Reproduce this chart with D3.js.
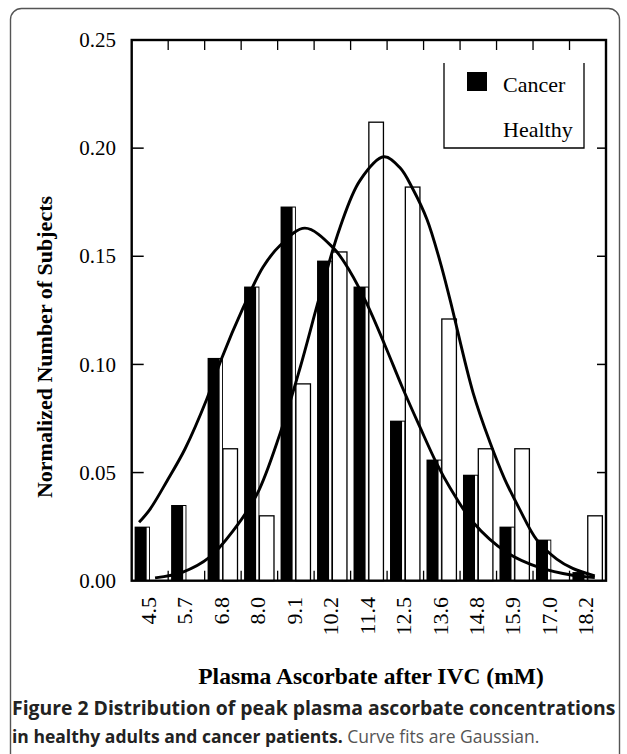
<!DOCTYPE html>
<html>
<head>
<meta charset="utf-8">
<script src="https://cdn.jsdelivr.net/npm/d3@7"></script>
<style>
  body { margin: 0; background: #fff; }
  svg { display: block; }
  .serif { font-family: "Liberation Serif", "Times New Roman", serif; }
</style>
</head>
<body>
<svg id="chart" width="627" height="754"></svg>
<script>
// categories (mM, bin labels)
const categories = ["4.5", "5.7", "6.8", "8.0", "9.1", "10.2", "11.4", "12.5", "13.6", "14.8", "15.9", "17.0", "18.2"];
// normalized number of subjects per bin
const cancerValues  = [0.025, 0.035, 0.103, 0.136, 0.173, 0.148, 0.136, 0.074, 0.056, 0.049, 0.025, 0.019, 0.004];
const healthyValues = [0, 0, 0.061, 0.030, 0.091, 0.152, 0.212, 0.182, 0.121, 0.061, 0.061, 0, 0.030];
const yTicks = [0, 0.05, 0.10, 0.15, 0.20, 0.25];

// gaussian fit curves [mM, value]
const cancerCurve = [
  [4.16, 0.027], [4.50, 0.033], [5.03, 0.046], [5.60, 0.061], [6.28, 0.084], [6.75, 0.103],
  [7.41, 0.126], [8.04, 0.145], [8.57, 0.155], [9.35, 0.163], [10.23, 0.154], [10.76, 0.143],
  [11.29, 0.128], [11.85, 0.109], [12.41, 0.089], [12.95, 0.071], [13.48, 0.054], [13.89, 0.043],
  [14.61, 0.027], [15.67, 0.013], [16.70, 0.006], [17.73, 0.0025], [18.42, 0.0015]
];
const healthyCurve = [
  [4.66, 0.0013], [5.53, 0.004], [6.38, 0.011], [7.10, 0.023], [7.85, 0.040], [8.57, 0.068],
  [9.19, 0.098], [9.82, 0.132], [10.44, 0.163], [11.07, 0.185], [11.82, 0.196], [12.32, 0.191],
  [12.73, 0.181], [13.17, 0.167], [13.57, 0.148], [13.89, 0.130], [14.61, 0.087], [15.14, 0.064],
  [15.60, 0.047], [16.07, 0.033], [16.60, 0.019], [17.23, 0.010], [17.73, 0.0057], [18.42, 0.0022]
];

const svg = d3.select("#chart");

// outer figure box
svg.append("rect")
  .attr("x", 10.5).attr("y", 8.5)
  .attr("width", 609).attr("height", 780)
  .attr("rx", 11)
  .attr("fill", "none").attr("stroke", "#555").attr("stroke-width", 1.4);

const plot = { left: 131.7, right: 606, top: 40, bottom: 580.7 };

const x = d3.scaleBand().domain(categories).range([plot.left, plot.right]).padding(0);
const bw = x.bandwidth();
const y = d3.scaleLinear().domain([0, 0.25]).range([plot.bottom, plot.top]);
// continuous mM scale, bin centers line up with labels
const xm = d3.scaleLinear()
  .domain([4.5, 18.2])
  .range([x(categories[0]) + bw / 2, x(categories[categories.length - 1]) + bw / 2]);

const rows = categories.map((c, i) => ({ cat: c, cancer: cancerValues[i], healthy: healthyValues[i] }));

const g = svg.append("g");

// cancer bars: black with thin white strip on right side (as in original)
g.selectAll(".cancer")
  .data(rows)
  .enter().append("rect")
  .attr("x", (d) => x(d.cat) + bw * 0.08)
  .attr("y", (d) => y(d.cancer))
  .attr("width", bw * 0.42)
  .attr("height", (d) => y(0) - y(d.cancer))
  .attr("fill", "#000");

g.selectAll(".strip")
  .data(rows)
  .enter().append("rect")
  .attr("x", (d) => x(d.cat) + bw * 0.41)
  .attr("y", (d) => y(d.cancer) + 1)
  .attr("width", bw * 0.065)
  .attr("height", (d) => Math.max(0, y(0) - y(d.cancer) - 1))
  .attr("fill", "#fff");

// healthy bars: white, outlined
g.selectAll(".healthy")
  .data(rows.filter((d) => d.healthy > 0))
  .enter().append("rect")
  .attr("x", (d) => x(d.cat) + bw * 0.5)
  .attr("y", (d) => y(d.healthy))
  .attr("width", bw * 0.4)
  .attr("height", (d) => y(0) - y(d.healthy))
  .attr("fill", "#fff")
  .attr("stroke", "#000")
  .attr("stroke-width", 1.3);

// fit curves
const line = d3.line()
  .x((d) => xm(d[0]))
  .y((d) => y(d[1]))
  .curve(d3.curveCatmullRom);

[cancerCurve, healthyCurve].forEach((pts) => {
  g.append("path")
    .attr("d", line(pts))
    .attr("fill", "none")
    .attr("stroke", "#000")
    .attr("stroke-width", 2.9);
});

// inward ticks on all four sides
const boundaries = categories.slice(1).map((c) => x(c));
g.selectAll(".tickb")
  .data(boundaries)
  .enter().append("line")
  .attr("x1", (d) => d).attr("x2", (d) => d)
  .attr("y1", plot.bottom).attr("y2", plot.bottom - 10)
  .attr("stroke", "#000").attr("stroke-width", 1.3);
g.selectAll(".tickt")
  .data(boundaries)
  .enter().append("line")
  .attr("x1", (d) => d).attr("x2", (d) => d)
  .attr("y1", plot.top).attr("y2", plot.top + 10)
  .attr("stroke", "#000").attr("stroke-width", 1.3);

const inner = yTicks.slice(1, -1);
g.selectAll(".tickl")
  .data(inner)
  .enter().append("line")
  .attr("x1", plot.left).attr("x2", plot.left + 12)
  .attr("y1", (d) => y(d)).attr("y2", (d) => y(d))
  .attr("stroke", "#000").attr("stroke-width", 1.5);
g.selectAll(".tickr")
  .data(inner)
  .enter().append("line")
  .attr("x1", plot.right).attr("x2", plot.right - 9)
  .attr("y1", (d) => y(d)).attr("y2", (d) => y(d))
  .attr("stroke", "#000").attr("stroke-width", 1.5);

// frame
g.append("rect")
  .attr("x", plot.left).attr("y", plot.top)
  .attr("width", plot.right - plot.left)
  .attr("height", plot.bottom - plot.top)
  .attr("fill", "none").attr("stroke", "#000").attr("stroke-width", 2.4);

// y tick labels
g.selectAll(".ylab")
  .data(yTicks)
  .enter().append("text")
  .attr("class", "serif")
  .attr("x", 116)
  .attr("y", (d) => y(d))
  .attr("dy", "0.34em")
  .attr("text-anchor", "end")
  .attr("font-size", 21)
  .text((d) => d3.format(".2f")(d));

// x tick labels, rotated
g.selectAll(".xlab")
  .data(categories)
  .enter().append("text")
  .attr("class", "serif")
  .attr("transform", (d) => "translate(" + (x(d) + bw / 2 - 2) + "," + 597 + ") rotate(-90)")
  .attr("dy", "0.35em")
  .attr("text-anchor", "end")
  .attr("font-size", 22)
  .text((d) => d);

// axis titles
svg.append("text")
  .attr("class", "serif")
  .attr("x", 371).attr("y", 684)
  .attr("text-anchor", "middle")
  .attr("font-size", 23.5)
  .attr("font-weight", "bold")
  .text("Plasma Ascorbate after IVC (mM)");

svg.append("text")
  .attr("class", "serif")
  .attr("transform", "translate(52,347) rotate(-90)")
  .attr("text-anchor", "middle")
  .attr("font-size", 22)
  .attr("font-weight", "bold")
  .text("Normalized Number of Subjects");

// legend (box has no top edge)
const leg = svg.append("g");
leg.append("path")
  .attr("d", "M444,63V148H584V63")
  .attr("fill", "none").attr("stroke", "#000").attr("stroke-width", 1.3);
leg.append("rect")
  .attr("x", 467).attr("y", 72).attr("width", 20).attr("height", 19)
  .attr("fill", "#000");
leg.append("text").attr("class", "serif")
  .attr("x", 503).attr("y", 92).attr("font-size", 22).text("Cancer");
leg.append("text").attr("class", "serif")
  .attr("x", 503).attr("y", 137).attr("font-size", 22).text("Healthy");

// caption
const cap1 = svg.append("text")
  .attr("x", 12).attr("y", 715)
  .attr("font-family", "'Open Sans', sans-serif")
  .attr("font-size", 19)
  .attr("font-weight", "bold")
  .attr("fill", "#222")
  .text("Figure 2 Distribution of peak plasma ascorbate concentrations");

const cap2 = svg.append("text")
  .attr("x", 12).attr("y", 743)
  .attr("font-family", "'Open Sans', sans-serif")
  .attr("font-size", 19)
  .attr("fill", "#222");
cap2.append("tspan").attr("font-weight", "bold").text("in healthy adults and cancer patients.");
cap2.append("tspan").attr("fill", "#555").text(" Curve fits are Gaussian.");

// fit caption lines to the widths seen in the figure
const fit = (sel, target) => {
  const w = sel.node().getComputedTextLength();
  sel.attr("font-size", 19 * target / w);
};
fit(cap1, 604);
fit(cap2, 528);
</script>
</body>
</html>
